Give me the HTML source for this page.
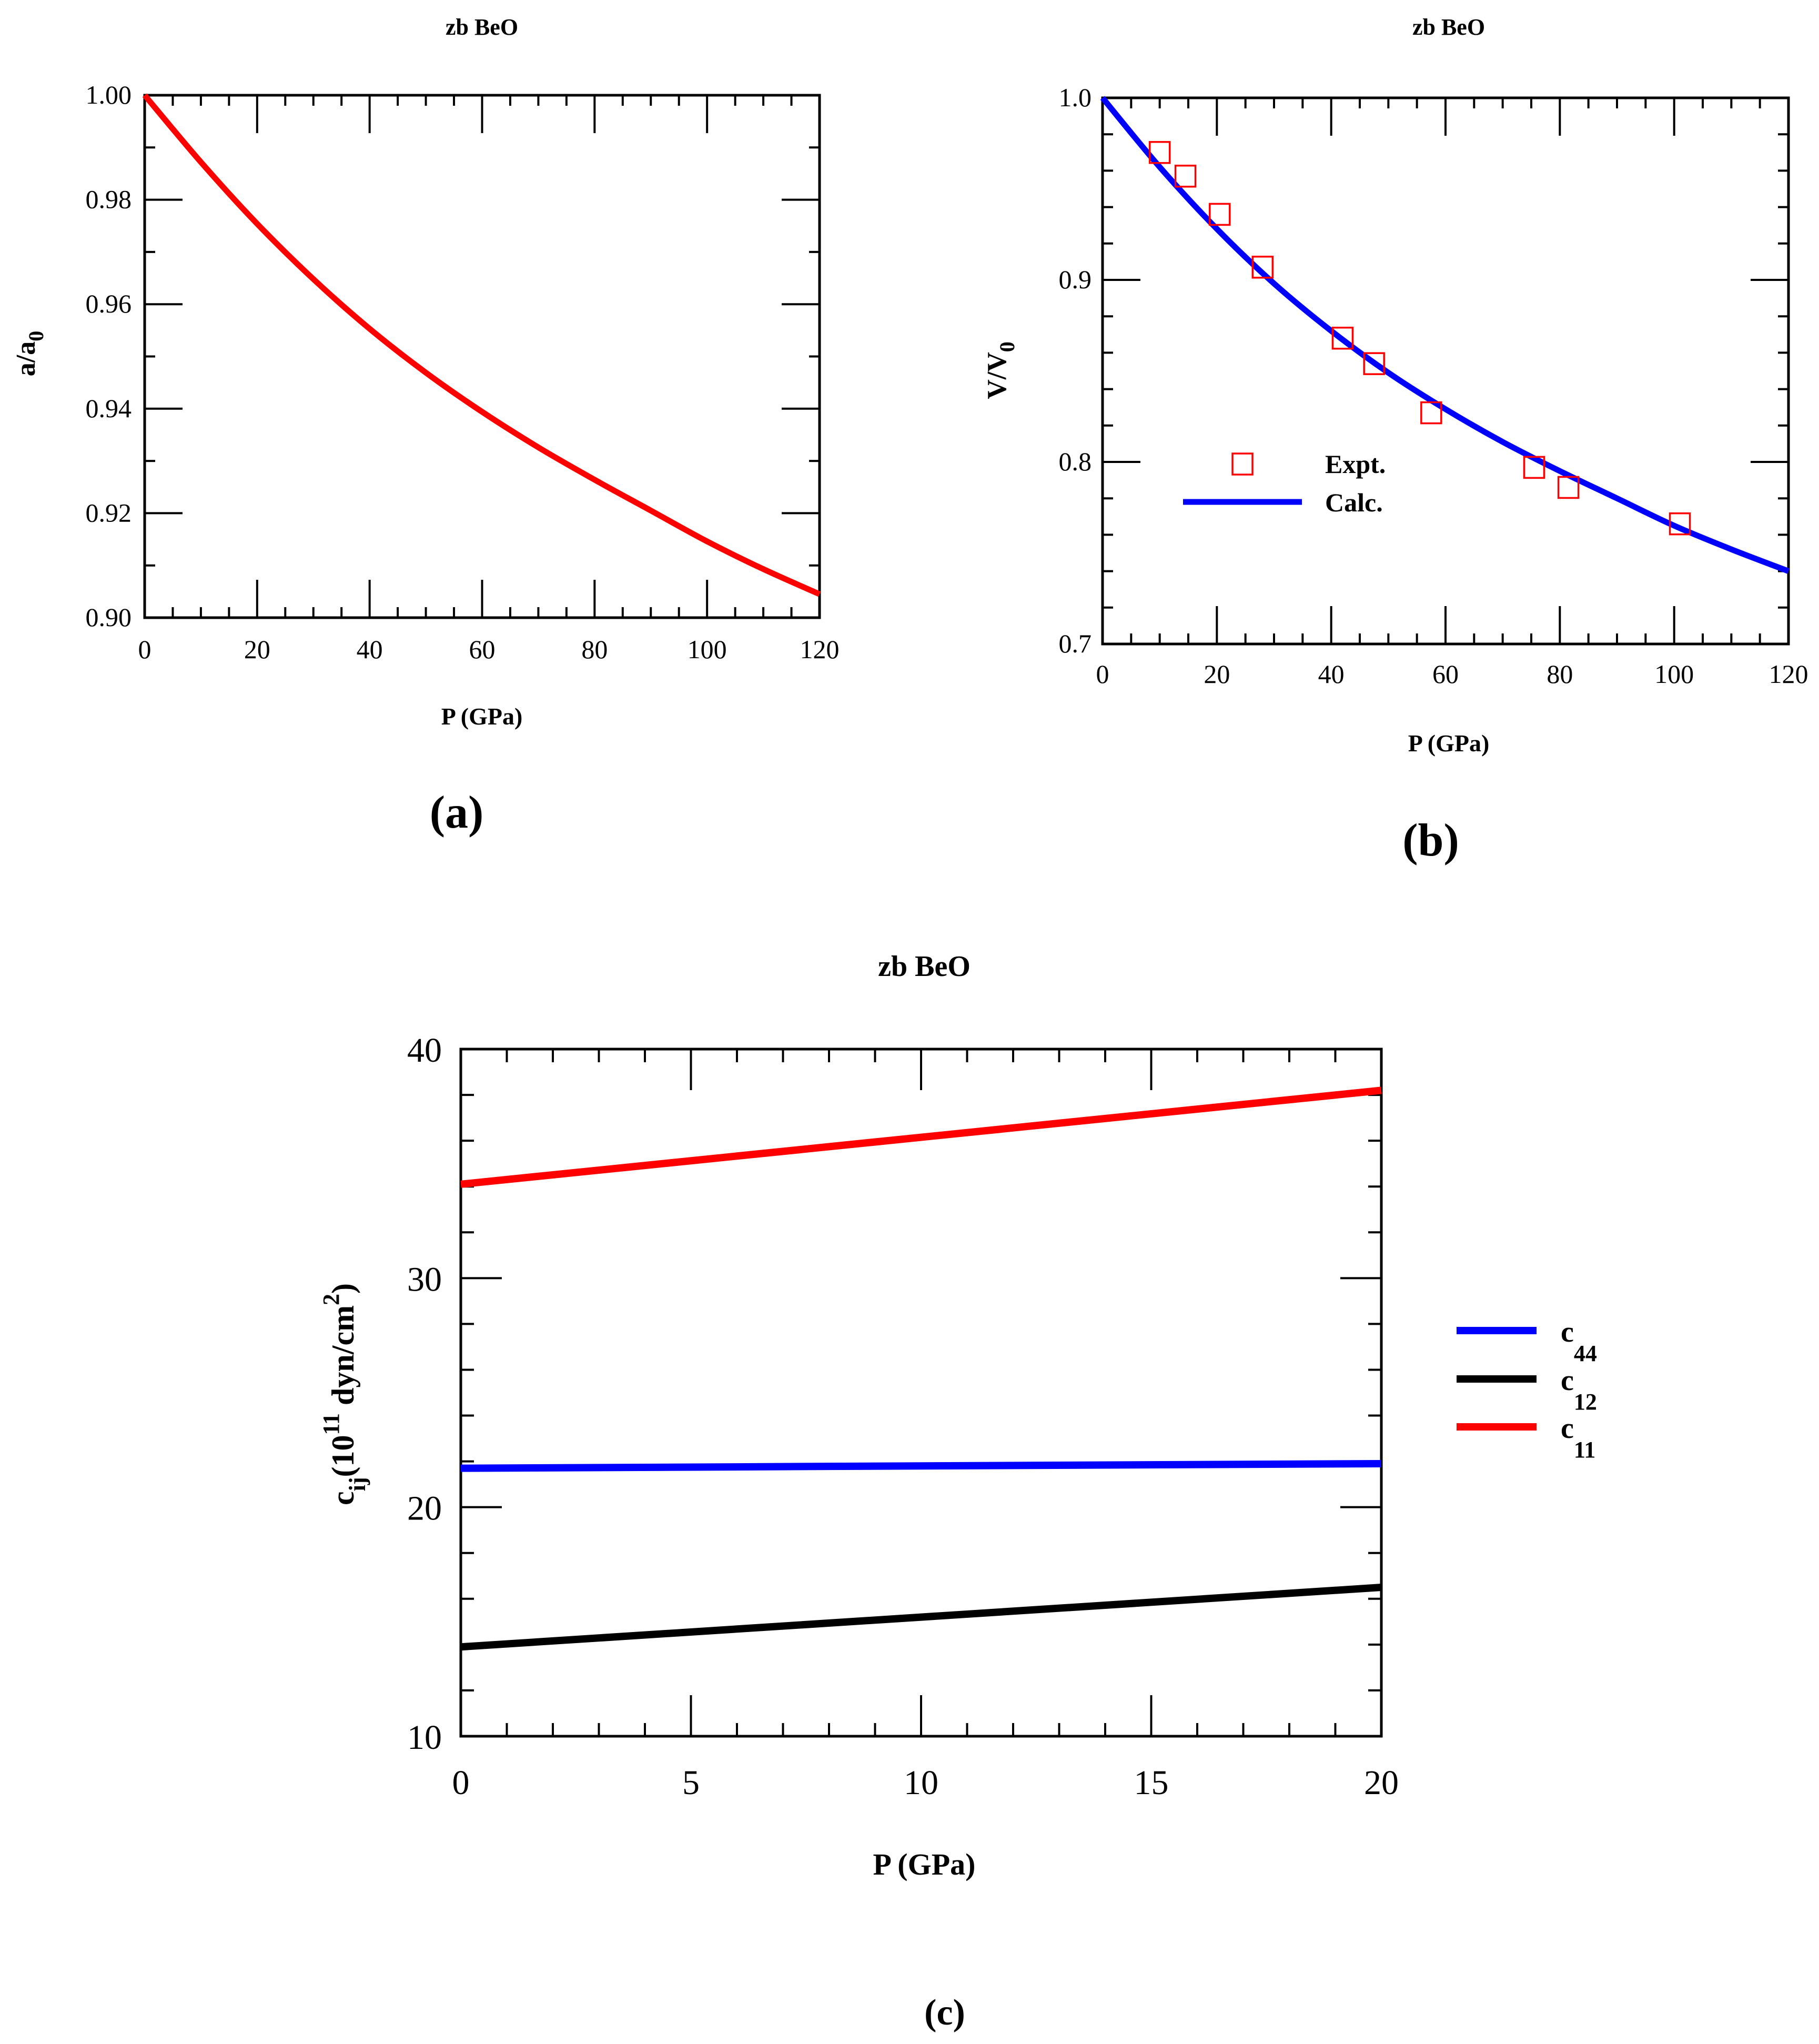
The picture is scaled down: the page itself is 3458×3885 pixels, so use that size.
<!DOCTYPE html>
<html><head><meta charset="utf-8"><style>
html,body{margin:0;padding:0;background:#fff;}
svg{display:block;font-family:"Liberation Serif",serif;}
</style></head><body>
<svg id="fig" width="3458" height="3885" viewBox="0 0 3458 3885" xmlns="http://www.w3.org/2000/svg"></svg>
<script>
// Panel (a) data
const aP = [0,10,20,30,40,50,60,70,80,90,100,110,120];
const aRatio = [1.0,0.9872,0.9754,0.9648,0.9553,0.9469,0.9394,0.9326,0.9264,0.9205,0.9146,0.9093,0.9045];
const aXTicks = [0,20,40,60,80,100,120];
const aYTicks = ["0.90","0.92","0.94","0.96","0.98","1.00"];
// Panel (b) data
const bP = [0,10,20,30,40,50,60,70,80,90,100,110,120];
const bCalc = [1.0,0.962,0.928,0.898,0.872,0.849,0.829,0.811,0.795,0.780,0.765,0.752,0.740];
const bExpP = [10,14.5,20.5,28,42,47.5,57.5,75.5,81.5,101];
const bExpV = [0.970,0.957,0.936,0.907,0.868,0.854,0.827,0.797,0.786,0.766];
const bXTicks = [0,20,40,60,80,100,120];
const bYTicks = ["0.7","0.8","0.9","1.0"];
// Panel (c) data
const cP = [0,20];
const c11 = [34.1,38.2];
const c12 = [13.9,16.5];
const c44 = [21.7,21.9];
const cXTicks = [0,5,10,15,20];
const cYTicks = [10,20,30,40];

const svg = document.getElementById('fig');
const NS = 'http://www.w3.org/2000/svg';
function mk(tag, attrs, parent){
  const e = document.createElementNS(NS, tag);
  for (const k in attrs) e.setAttribute(k, attrs[k]);
  (parent||svg).appendChild(e);
  return e;
}
function txt(str, x, y, size, opts, parent){
  const t = mk('text', Object.assign({x:x, y:y, 'font-size':size}, opts||{}), parent);
  t.textContent = str;
  return t;
}
function scale(d0,d1,r0,r1){ return v => r0 + (v-d0)/(d1-d0)*(r1-r0); }
function smoothPath(pts){
  let d = 'M'+pts[0][0]+','+pts[0][1];
  for (let i=0;i<pts.length-1;i++){
    const p0=pts[i-1]||pts[i], p1=pts[i], p2=pts[i+1], p3=pts[i+2]||p2;
    const c1=[p1[0]+(p2[0]-p0[0])/6, p1[1]+(p2[1]-p0[1])/6];
    const c2=[p2[0]-(p3[0]-p1[0])/6, p2[1]-(p3[1]-p1[1])/6];
    d += ' C'+c1[0]+','+c1[1]+' '+c2[0]+','+c2[1]+' '+p2[0]+','+p2[1];
  }
  return d;
}
function frame(g, L,T,R,B, xmin,xmax,xmajor,xminor, ymin,ymax,ymajor,yminor, majLen, minLen){
  const sx = scale(xmin,xmax,L,R), sy = scale(ymin,ymax,B,T);
  const r = mk('rect',{x:L,y:T,width:R-L,height:B-T,fill:'none',stroke:'#000','stroke-width':5},g);
  
  
  const eps=1e-9;
  for (let v=xmin; v<=xmax+eps; v+=xminor){
    const isMaj = Math.abs(((v-xmin)/xmajor)-Math.round((v-xmin)/xmajor))<1e-6;
    const len = isMaj ? majLen : minLen;
    const x = sx(v);
    mk('line',{x1:x,y1:B,x2:x,y2:B-len,stroke:'#000','stroke-width':4},g);
    mk('line',{x1:x,y1:T,x2:x,y2:T+len,stroke:'#000','stroke-width':4},g);
  }
  for (let v=ymin; v<=ymax+eps; v+=yminor){
    const isMaj = Math.abs(((v-ymin)/ymajor)-Math.round((v-ymin)/ymajor))<1e-6;
    const len = isMaj ? majLen : minLen;
    const y = sy(v);
    mk('line',{x1:L,y1:y,x2:L+len,y2:y,stroke:'#000','stroke-width':4},g);
    mk('line',{x1:R,y1:y,x2:R-len,y2:y,stroke:'#000','stroke-width':4},g);
  }
  return {sx, sy};
}

// ---------- Panel A ----------
const gA = mk('g',{});


const A = frame(gA, 275,181,1558,1174, 0,120,20,5, 0.90,1.00,0.02,0.01, 72, 20);
aXTicks.forEach(v=>{
  const t = txt(String(v), A.sx(v), 1251, 50, {'text-anchor':'middle'}, gA);
  
  
});
aYTicks.forEach(s=>{
  const t = txt(s, 250, A.sy(parseFloat(s))+16, 50, {'text-anchor':'end'}, gA);
  
  
});
const aCurve = mk('path',{d:smoothPath(aP.map((p,i)=>[A.sx(p),A.sy(aRatio[i])])),fill:'none',stroke:'#ff0000','stroke-width':11},gA);


const aTitle = txt('zb BeO', 916, 66, 44, {'text-anchor':'middle','font-weight':'bold'}, gA);


const aXT = txt('P (GPa)', 916, 1377, 46, {'text-anchor':'middle','font-weight':'bold'}, gA);


const aYT = mk('text',{transform:'translate(66,672) rotate(-90)','font-size':52,'font-weight':'bold','text-anchor':'middle'},gA);


aYT.innerHTML = 'a/a<tspan dy="16" font-size="40">0</tspan>';
const aLab = txt('(a)', 868, 1573, 88, {'text-anchor':'middle','font-weight':'bold'}, gA);



// ---------- Panel B ----------
const gB = mk('g',{});


const B = frame(gB, 2096,186,3400,1224, 0,120,20,5, 0.7,1.0,0.1,0.02, 72, 20);
bXTicks.forEach(v=>{
  const t = txt(String(v), B.sx(v), 1298, 50, {'text-anchor':'middle'}, gB);
  
  
});
bYTicks.forEach(s=>{
  const t = txt(s, 2075, B.sy(parseFloat(s))+16, 50, {'text-anchor':'end'}, gB);
  
  
});
const bCurve = mk('path',{d:smoothPath(bP.map((p,i)=>[B.sx(p),B.sy(bCalc[i])])),fill:'none',stroke:'#0000ff','stroke-width':11},gB);


bExpP.forEach((p,i)=>{
  const s = mk('rect',{x:B.sx(p)-19,y:B.sy(bExpV[i])-20,width:38,height:40,fill:'none',stroke:'#ff0000','stroke-width':3.5},gB);
  
  
});
const lsq = mk('rect',{x:2343,y:862,width:38,height:40,fill:'none',stroke:'#ff0000','stroke-width':3.5},gB);


const lex = txt('Expt.', 2519, 899, 50, {'font-weight':'bold'}, gB);


const lln = mk('line',{x1:2249,y1:954,x2:2475,y2:954,stroke:'#0000ff','stroke-width':11},gB);


const lca = txt('Calc.', 2519, 972, 50, {'font-weight':'bold'}, gB);


const bTitle = txt('zb BeO', 2754, 66, 44, {'text-anchor':'middle','font-weight':'bold'}, gB);


const bXT = txt('P (GPa)', 2754, 1428, 46, {'text-anchor':'middle','font-weight':'bold'}, gB);


const bYT = mk('text',{transform:'translate(1912,704) rotate(-90)','font-size':52,'font-weight':'bold','text-anchor':'middle'},gB);


bYT.innerHTML = 'V/V<tspan dy="16" font-size="40">0</tspan>';
const bLab = txt('(b)', 2720, 1626, 88, {'text-anchor':'middle','font-weight':'bold'}, gB);



// ---------- Panel C ----------
const gC = mk('g',{});


const C = frame(gC, 876,1994,2626,3300, 0,20,5,1, 10,40,10,2, 78, 25);
cXTicks.forEach(v=>{
  const t = txt(String(v), C.sx(v), 3410, 66, {'text-anchor':'middle'}, gC);
  
  
});
cYTicks.forEach(v=>{
  const t = txt(String(v), 840, C.sy(v)+24, 66, {'text-anchor':'end'}, gC);
  
  
});
const series = [[c44,'#0000ff','c44-line'],[c12,'#000000','c12-line'],[c11,'#ff0000','c11-line']];
series.forEach(s=>{
  const l = mk('polyline',{points:cP.map((p,i)=>C.sx(p)+','+C.sy(s[0][i])).join(' '),fill:'none',stroke:s[1],'stroke-width':14},gC);
  
  
});
const legC = [['#0000ff','44',2529],['#000000','12',2621],['#ff0000','11',2712]];
legC.forEach(e=>{
  const l = mk('line',{x1:2769,y1:e[2],x2:2921,y2:e[2],stroke:e[0],'stroke-width':14},gC);
  
  
  const t = mk('text',{x:2967,y:e[2]+21,'font-size':56,'font-weight':'bold'},gC);
  
  
  t.innerHTML = 'c<tspan dy="37" font-size="44">'+e[1]+'</tspan>';
});
const cTitle = txt('zb BeO', 1757, 1855, 56, {'text-anchor':'middle','font-weight':'bold'}, gC);


const cXT = txt('P (GPa)', 1757, 3563, 58, {'text-anchor':'middle','font-weight':'bold'}, gC);


const cYT = mk('text',{transform:'translate(672,2650) rotate(-90)','font-size':60,'font-weight':'bold','text-anchor':'middle'},gC);


cYT.innerHTML = 'c<tspan dy="22" font-size="44">ij</tspan><tspan dy="-22">(10</tspan><tspan dy="-28" font-size="44">11</tspan><tspan dy="28"> dyn/cm</tspan><tspan dy="-28" font-size="44">2</tspan><tspan dy="28">)</tspan>';
const cLab = txt('(c)', 1796, 3848, 70, {'text-anchor':'middle','font-weight':'bold'}, gC);


</script>
</body></html>
